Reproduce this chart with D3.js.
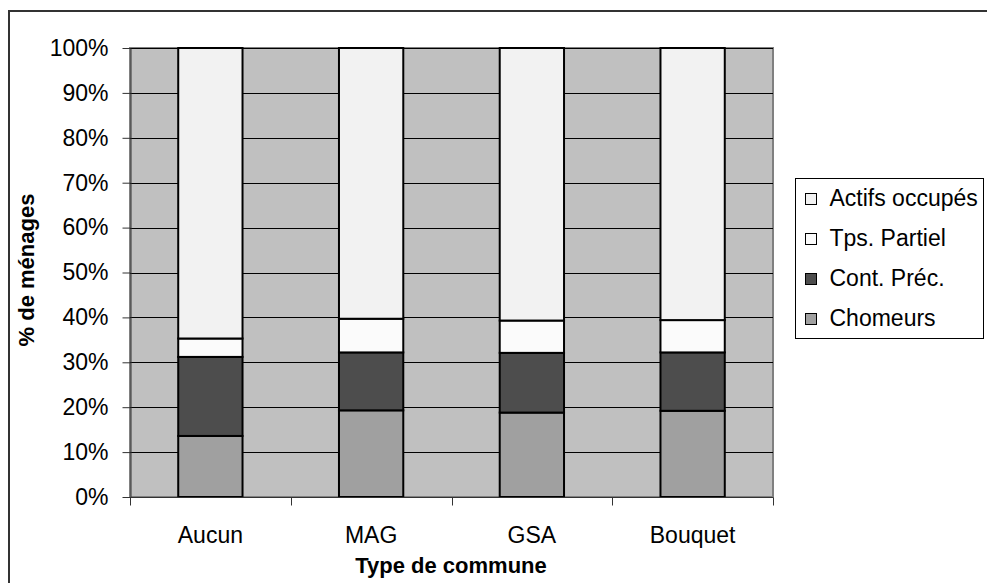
<!DOCTYPE html>
<html>
<head>
<meta charset="utf-8">
<script src="https://cdn.jsdelivr.net/npm/d3@7"></script>
<style>
  body { margin: 0; background: #fff; }
  text { font-family: "Liberation Sans", Arial, sans-serif; }
</style>
</head>
<body>
<script>
// data (percent of households)
var categories = ["Aucun", "MAG", "GSA", "Bouquet"];
var seriesNames = ["Chomeurs", "Cont. Préc.", "Tps. Partiel", "Actifs occupés"];
var chomeurs = [13.6, 19.3, 18.8, 19.2];
var contPrec = [17.6, 12.9, 13.3, 13.0];
var tpsPartiel = [4.1, 7.5, 7.2, 7.2];
var actifs = [64.7, 60.3, 60.7, 60.6];
var yTicks = [0, 10, 20, 30, 40, 50, 60, 70, 80, 90, 100];

var colors = ["#a0a0a0", "#4d4d4d", "#fbfbfb", "#f2f2f2"];

var rows = categories.map(function (c, i) {
  return { cat: c, "Chomeurs": chomeurs[i], "Cont. Préc.": contPrec[i], "Tps. Partiel": tpsPartiel[i], "Actifs occupés": actifs[i] };
});
var stacked = d3.stack().keys(seriesNames)(rows);

var W = 987, H = 583;
var plot = { left: 130, right: 773, top: 48, bottom: 497 };
var fs = 23;

var svg = d3.select("body").append("svg").attr("width", W).attr("height", H);

// outer chart frame
svg.append("rect")
  .attr("x", 9).attr("y", 11)
  .attr("width", W).attr("height", H)
  .attr("fill", "#fff").attr("stroke", "#333").attr("stroke-width", 2);

var x = d3.scaleBand().domain(categories).range([plot.left, plot.right]).paddingInner(0.6).paddingOuter(0.3);
var xOuter = d3.scaleBand().domain(categories).range([plot.left, plot.right]);
var y = d3.scaleLinear().domain([0, 100]).range([plot.bottom, plot.top]);

// plot background
svg.append("rect")
  .attr("x", plot.left).attr("y", plot.top)
  .attr("width", plot.right - plot.left).attr("height", plot.bottom - plot.top)
  .attr("fill", "#c0c0c0").attr("stroke", "#808080").attr("stroke-width", 2);

// gridlines
svg.append("g").selectAll("line")
  .data(yTicks.filter(function (d) { return d > 0; }))
  .enter().append("line")
  .attr("x1", plot.left).attr("x2", plot.right)
  .attr("y1", function (d) { return Math.round(y(d)) + 0.5; })
  .attr("y2", function (d) { return Math.round(y(d)) + 0.5; })
  .attr("stroke", "#000").attr("stroke-width", 1);

// bars
svg.append("g").selectAll("g")
  .data(stacked)
  .enter().append("g")
  .attr("fill", function (d, i) { return colors[i]; })
  .selectAll("rect")
  .data(function (d) { return d; })
  .enter().append("rect")
  .attr("x", function (d) { return x(d.data.cat); })
  .attr("width", x.bandwidth())
  .attr("y", function (d) { return y(d[1]); })
  .attr("height", function (d) { return y(d[0]) - y(d[1]); })
  .attr("stroke", "#000").attr("stroke-width", 2);

// y axis
var yAxis = d3.axisLeft(y).tickValues(yTicks).tickFormat(function (d) { return d + "%"; })
  .tickSizeInner(8).tickSizeOuter(0).tickPadding(14);
var gy = svg.append("g").attr("transform", "translate(" + (plot.left + 0.5) + ",0)").call(yAxis);
gy.select(".domain").attr("stroke", "#333");
gy.selectAll(".tick line").attr("stroke", "#333");
gy.selectAll("text").attr("font-size", fs).attr("fill", "#000")
  .attr("font-family", "'Liberation Sans', Arial, sans-serif");

// x axis (ticks at category boundaries)
var gx = svg.append("g").attr("transform", "translate(0," + (plot.bottom + 0.5) + ")");
gx.append("line").attr("x1", plot.left).attr("x2", plot.right).attr("stroke", "#333");
gx.selectAll(".tk")
  .data(categories.concat(["end"]))
  .enter().append("line")
  .attr("x1", function (d, i) { return Math.round(i < categories.length ? xOuter(d) : plot.right) + 0.5; })
  .attr("x2", function (d, i) { return Math.round(i < categories.length ? xOuter(d) : plot.right) + 0.5; })
  .attr("y1", 0).attr("y2", 8).attr("stroke", "#333");
gx.selectAll(".lbl")
  .data(categories)
  .enter().append("text")
  .attr("x", function (d) { return xOuter(d) + xOuter.bandwidth() / 2; })
  .attr("y", 45)
  .attr("text-anchor", "middle").attr("font-size", fs)
  .text(function (d) { return d; });

// axis titles
svg.append("text")
  .attr("x", 451).attr("y", 573)
  .attr("text-anchor", "middle").attr("font-size", 22).attr("font-weight", "bold")
  .text("Type de commune");
svg.append("text")
  .attr("transform", "translate(34,270) rotate(-90)")
  .attr("text-anchor", "middle").attr("font-size", 22).attr("font-weight", "bold")
  .text("% de ménages");

// legend
var legendOrder = seriesNames.slice().reverse();
var lg = svg.append("g").attr("transform", "translate(795.5,178.5)");
lg.append("rect").attr("width", 188).attr("height", 160).attr("fill", "#fff").attr("stroke", "#000");
var items = lg.selectAll(".item")
  .data(legendOrder)
  .enter().append("g")
  .attr("transform", function (d, i) { return "translate(10," + (15 + i * 40) + ")"; });
items.append("rect")
  .attr("width", 11).attr("height", 11)
  .attr("fill", function (d) { return colors[seriesNames.indexOf(d)]; })
  .attr("stroke", "#000");
items.append("text")
  .attr("x", 24).attr("y", 12.5)
  .attr("font-size", fs)
  .text(function (d) { return d; });
</script>
</body>
</html>
